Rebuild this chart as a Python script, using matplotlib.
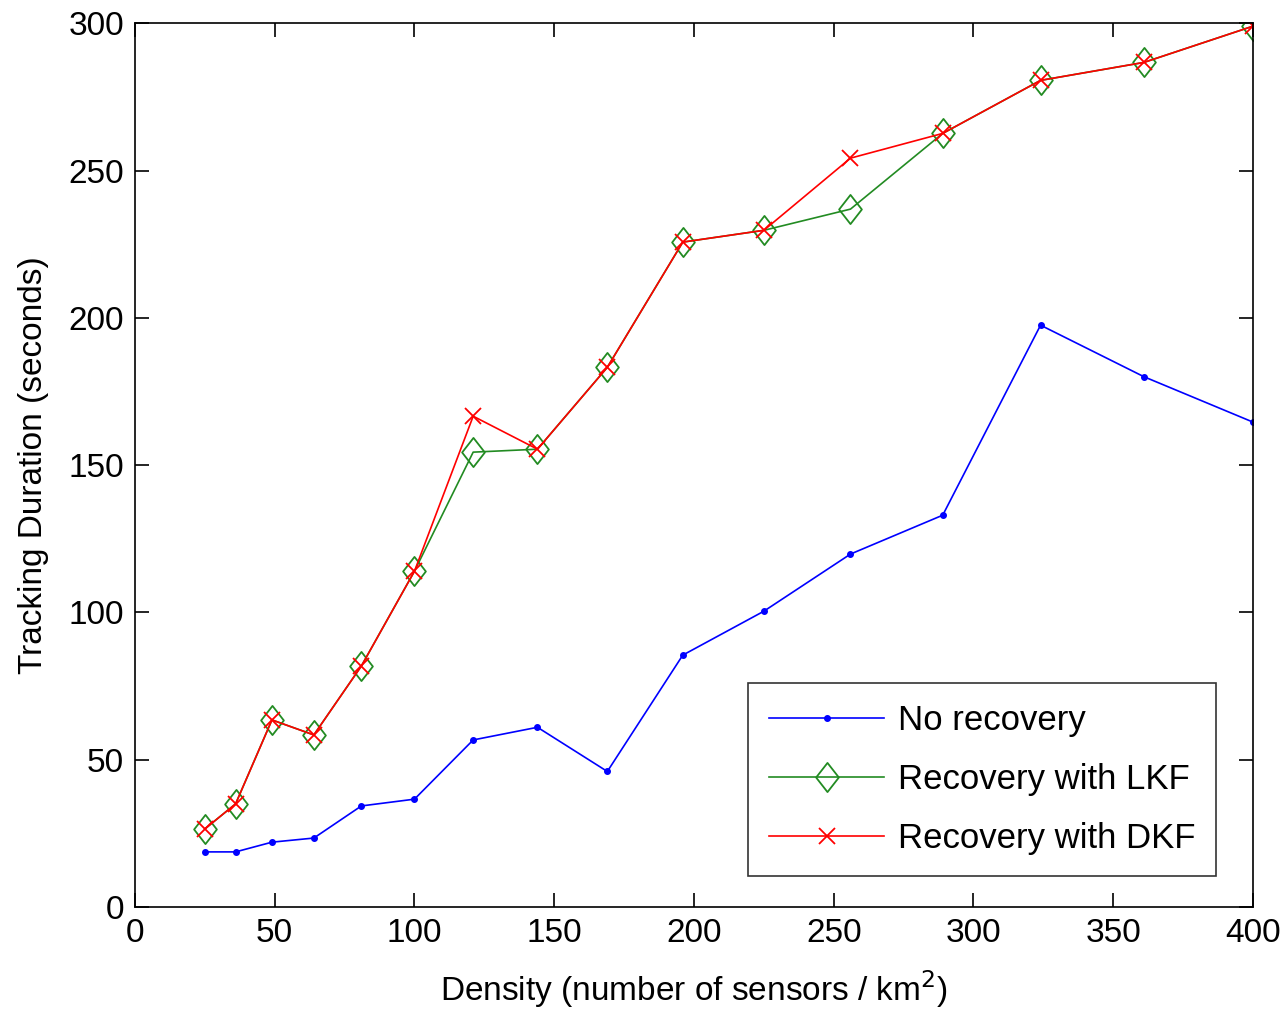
import matplotlib
matplotlib.use("Agg")
import matplotlib.pyplot as plt
from matplotlib.path import Path

plt.rcParams['font.family'] = ['Liberation Sans', 'DejaVu Sans']

density = [25, 36, 49, 64, 81, 100, 121, 144, 169, 196, 225, 256, 289, 324, 361, 400]
no_recovery = [18.7, 18.7, 22, 23.4, 34.3, 36.6, 56.7, 61, 46, 85.5, 100.4, 119.8, 133, 197.5, 180, 164.6]
lkf = [26.5, 35, 63.5, 58.4, 81.8, 114, 154.4, 155.4, 183.2, 225.7, 229.7, 236.9, 262.6, 280.6, 286.7, 299]
dkf = [26.5, 35, 63.5, 58.4, 81.8, 114, 166.6, 155.4, 183.2, 225.7, 229.7, 254.2, 262.6, 280.6, 286.7, 299]

diamond = Path([(0, 1), (0.78, 0), (0, -1), (-0.78, 0), (0, 1)],
               [Path.MOVETO, Path.LINETO, Path.LINETO, Path.LINETO, Path.CLOSEPOLY])

fig = plt.figure(figsize=(12.88, 10.10), dpi=100)
ax = fig.add_axes([0.1048, 0.102, 0.868, 0.875])

ax.plot(density, no_recovery, color='blue', marker='.', markersize=8, lw=1.2, label='No recovery')
ax.plot(density, lkf, color='#228B22', marker=diamond, markersize=21, mfc='none', mew=1.3, lw=1.2,
        label='Recovery with LKF')
ax.plot(density, dkf, color='red', marker='x', markersize=11, mew=1.3, lw=1.2, label='Recovery with DKF')

ax.set_xlim(0, 400)
ax.set_ylim(0, 300)
ax.set_xticks(range(0, 401, 50))
ax.set_yticks(range(0, 301, 50))
ax.tick_params(direction='in', top=True, right=True, length=10, width=1.2, labelsize=24, pad=8)
for s in ax.spines.values():
    s.set_linewidth(1.2)

ax.set_xlabel('Density (number of sensors / km$^2$)', fontsize=24, labelpad=14)
ax.set_ylabel('Tracking Duration (seconds)', fontsize=24, labelpad=14)

leg = ax.legend(loc='lower right', bbox_to_anchor=(0.967, 0.035), fontsize=25, fancybox=False,
                edgecolor='black', handlelength=3.3, labelspacing=0.75, borderpad=0.6, handletextpad=0.4,
                borderaxespad=0)
leg.get_frame().set_linewidth(1.2)

fig.savefig('out.png', dpi=100)
